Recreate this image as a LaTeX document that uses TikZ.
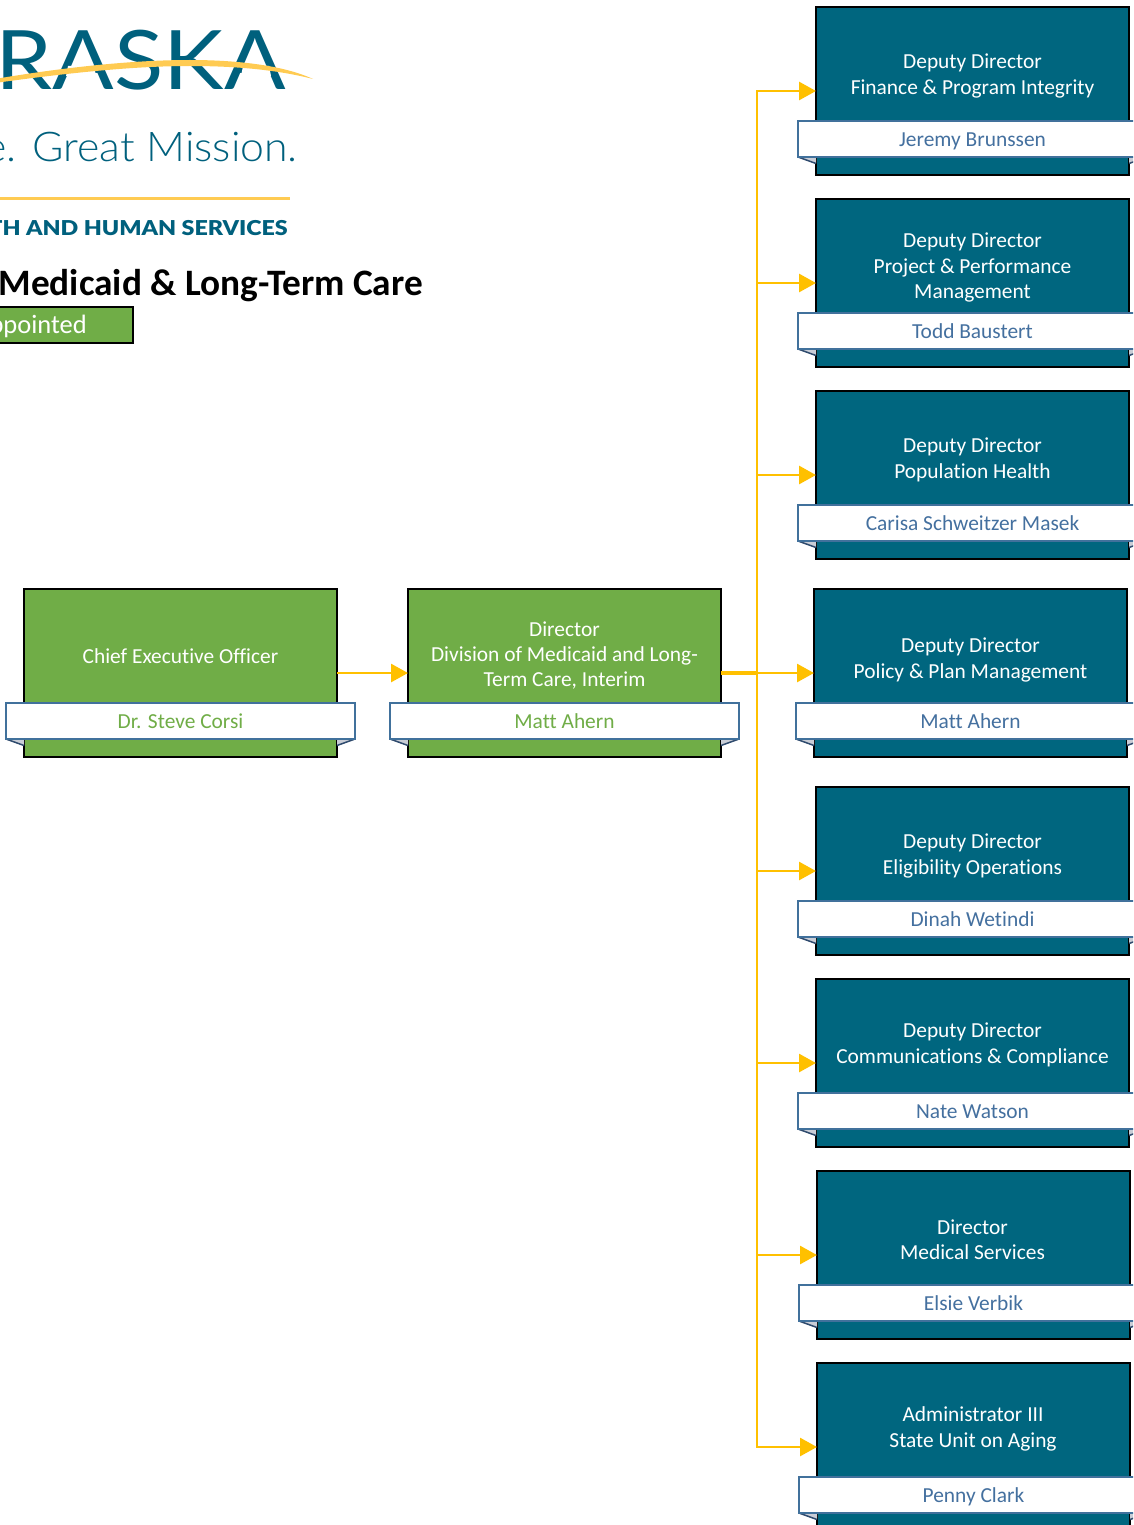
\documentclass[tikz,border=0pt]{standalone}
\usepackage{fontspec}
\setmainfont{Carlito}[Ligatures=NoCommon]
\newfontfamily\logofont{Lato}
\newfontfamily\logolight{Lato Light}
\newfontfamily\logoblack{Lato Black}
\usetikzlibrary{arrows.meta,calc}
\definecolor{tealbox}{HTML}{00667F}
\definecolor{greenbox}{HTML}{70AD47}
\definecolor{bandedge}{HTML}{41719C}
\definecolor{nametext}{HTML}{44709F}
\definecolor{linkgold}{HTML}{FFC000}
\definecolor{swoosh}{HTML}{FFCB52}
\definecolor{logoteal}{HTML}{00607D}
\definecolor{foldgray}{HTML}{C9CDD6}
\definecolor{folddark}{HTML}{2F4B6E}
\tikzset{
  orgbox/.style={draw=black,line width=2.6pt,outer sep=0pt,minimum width=313pt,minimum height=168pt,inner sep=0pt,anchor=north west},
  titletext/.style={text=white,font=\fontsize{21.4}{25.4}\selectfont,align=center,inner sep=0pt},
  bandbox/.style={draw=bandedge,fill=white,line width=2pt,outer sep=0pt,minimum width=349pt,minimum height=36pt,inner sep=0pt,anchor=north west},
  nameword/.style={font=\fontsize{21.4}{25.4}\selectfont,inner sep=0pt,anchor=base},
  foldline/.style={draw=folddark,line width=1.5pt},
  link/.style={draw=linkgold,line width=2.8pt},
  linkarrow/.style={link,-{Triangle[length=17pt,width=18pt]}},
}
\newcommand{\orgunit}[8]{%
  % #1 name, #2 left, #3 top, #4 fill, #5 title, #6 person, #7 person colour, #8 title offset
  \node[orgbox,fill=#4] (#1) at (#2,#3) {};
  \node[titletext] (#1t) at ($(#1.north)+(#8)$) {#5};
  \fill[foldgray] ($(#1.north west)+(-18,150)$) -- ($(#1.north west)+(0,150)$) -- ($(#1.north west)+(0,156.5)$) -- cycle;
  \draw[foldline] ($(#1.north west)+(-18,150)$) -- ($(#1.north west)+(0,156.5)$);
  \fill[foldgray] ($(#1.north east)+(18,150)$) -- ($(#1.north east)+(0,150)$) -- ($(#1.north east)+(0,156.5)$) -- cycle;
  \draw[foldline] ($(#1.north east)+(18,150)$) -- ($(#1.north east)+(0,156.5)$);
  \node[bandbox] (#1b) at ($(#1.north west)+(-18,114)$) {};
  \node[nameword,text=#7] (#1n) at ($(#1b.center)+(0,7.3)$) {#6};
}
\begin{document}
\begin{tikzpicture}[x=1pt,y=-1pt]
\useasboundingbox (0,0) rectangle (1133,1525);
\clip (0,0) rectangle (1133,1525);
% logo
\node[anchor=base east,inner sep=0pt,text=logoteal,font=\logofont\fontsize{82}{82}\selectfont] (logoword) at (286,90) {\scalebox{1.11}[1]{RASKA}};
\fill[white] (68,66) -- (94,66) -- (96,76) -- (66,76) -- cycle;
\fill[white] (243,66) -- (269,66) -- (271,76) -- (241,76) -- cycle;
\fill[swoosh] (-5,79) .. controls (60,68) and (130,60) .. (190,60) .. controls (240,60) and (285,66) .. (313,79) .. controls (280,70.5) and (240,66) .. (190,66) .. controls (130,66) and (60,74) .. (-5,83) -- cycle;
\node[anchor=base east,inner sep=0pt,text=logoteal,font=\logolight\fontsize{41}{41}\selectfont] (logotag) at (298,162) {\scalebox{1.044}[1]{e. Great Mission.}};
\fill[swoosh] (0,197.5) rectangle (290,200.5);
\node[anchor=base east,inner sep=0pt,text=logoteal,font=\logoblack\fontsize{20.5}{21}\selectfont] (logodept) at (288,235) {\scalebox{1.135}[1]{TH AND HUMAN SERVICES}};
% title and key
\node[anchor=base east,inner sep=0pt,font=\bfseries\fontsize{37.3}{37}\selectfont] (maintitle) at (423,295) {Medicaid \& Long-Term Care};
\node[draw=black,fill=greenbox,line width=2.6pt,outer sep=0pt,anchor=north west,minimum width=151pt,minimum height=36pt,inner sep=0pt] (keybox) at (-18,307) {};
\node[anchor=base east,inner sep=0pt,text=white,font=\fontsize{26.5}{26}\selectfont] (keyword) at (87,333) {ppointed};
% boxes
\orgunit{ceo}{24}{589}{greenbox}{Chief Executive Officer}{Dr. Steve Corsi}{greenbox}{0,67}
\orgunit{dir}{408}{589}{greenbox}{Director\\Division of Medicaid and Long-\\Term Care, Interim}{Matt Ahern}{greenbox}{0,66.5}
\orgunit{ua}{816}{7}{tealbox}{Deputy Director\\Finance \& Program Integrity}{Jeremy Brunssen}{nametext}{0,69}
\orgunit{ub}{816}{199}{tealbox}{Deputy Director\\Project \& Performance\\Management}{Todd Baustert}{nametext}{0,68.5}
\orgunit{uc}{816}{391}{tealbox}{Deputy Director\\Population Health}{Carisa Schweitzer Masek}{nametext}{0,69}
\orgunit{ud}{814}{589}{tealbox}{Deputy Director\\Policy \& Plan Management}{Matt Ahern}{nametext}{0,71}
\orgunit{ue}{816}{787}{tealbox}{Deputy Director\\Eligibility Operations}{Dinah Wetindi}{nametext}{0,69}
\orgunit{uf}{816}{979}{tealbox}{Deputy Director\\Communications \& Compliance}{Nate Watson}{nametext}{0,66}
\orgunit{ug}{817}{1171}{tealbox}{Director\\Medical Services}{Elsie Verbik}{nametext}{-1,69}
\orgunit{uh}{817}{1363}{tealbox}{Administrator III\\State Unit on Aging}{Penny Clark}{nametext}{-0.5,66}
% connectors
\coordinate (trunk) at (757,673);
\draw[linkarrow] (ceo.east) -- (dir.west);
\draw[link,line width=3.6pt] (dir.east) -- (trunk);
\draw[linkarrow] (trunk) -- (ud.west);
\foreach \u in {ua,ub,uc,ue,uf,ug,uh}{
  \draw[linkarrow] (trunk) |- (\u.west);
}
\end{tikzpicture}
\end{document}
